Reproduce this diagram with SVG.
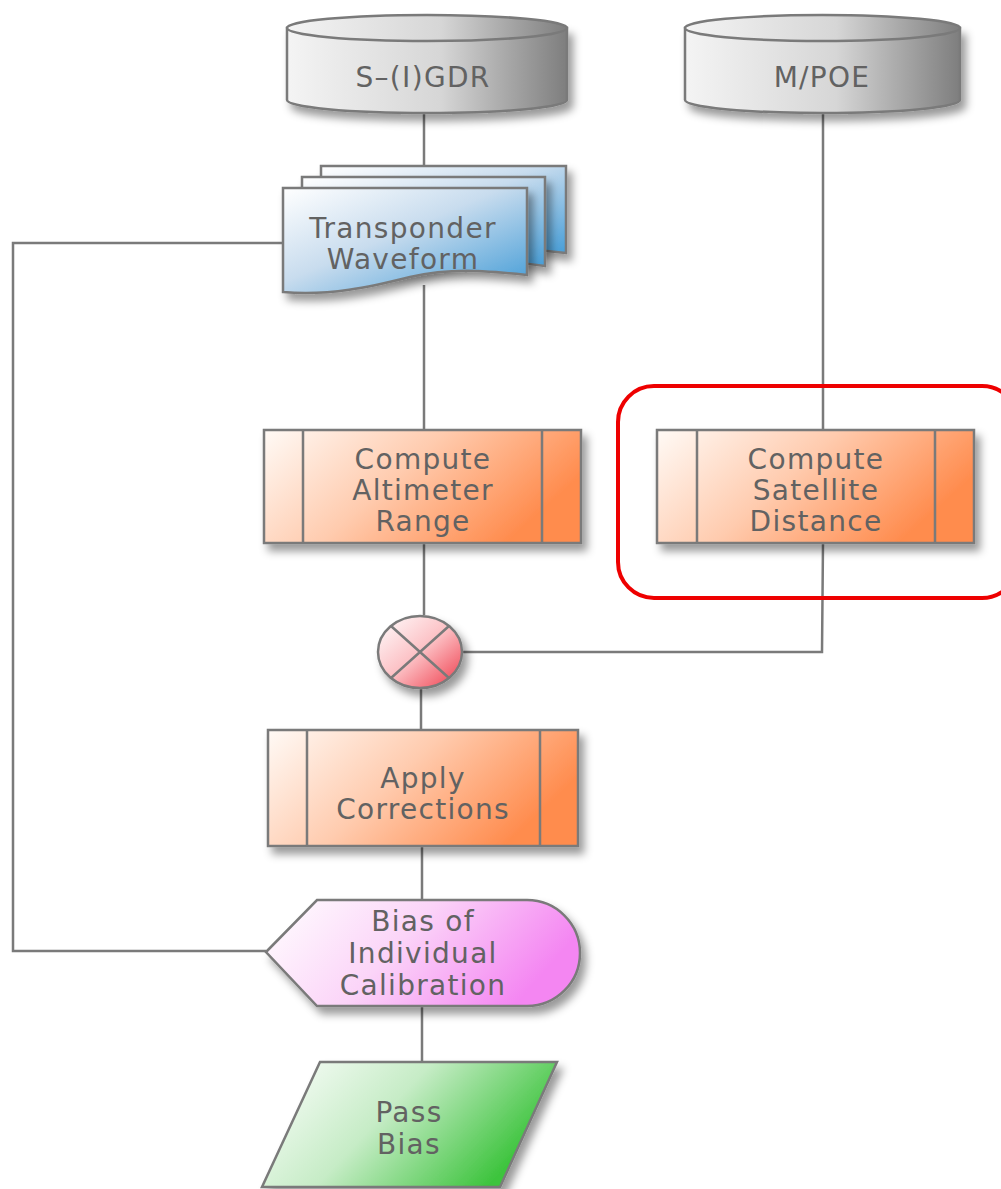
<svg xmlns="http://www.w3.org/2000/svg" width="1001" height="1189" viewBox="0 0 1001 1189">
<defs>
<filter id="sh" x="-20%" y="-20%" width="150%" height="160%">
<feDropShadow dx="5" dy="7" stdDeviation="4.5" flood-color="#000" flood-opacity="0.4"/>
</filter>
<linearGradient id="gGray" x1="0" y1="0" x2="1" y2="0">
<stop offset="0" stop-color="#f4f4f4"/><stop offset="0.55" stop-color="#d6d6d6"/><stop offset="1" stop-color="#7e7e7e"/>
</linearGradient>
<linearGradient id="gBlue" x1="0" y1="0" x2="1" y2="1">
<stop offset="0" stop-color="#ffffff"/><stop offset="0.45" stop-color="#c8dcee"/><stop offset="1" stop-color="#3f9ad6"/>
</linearGradient>
<linearGradient id="gOrange" x1="0" y1="0" x2="1" y2="0.4">
<stop offset="0" stop-color="#fffaf6"/><stop offset="0.5" stop-color="#ffcbae"/><stop offset="1" stop-color="#ff8c4e"/>
</linearGradient>
<linearGradient id="gRed" x1="0" y1="0" x2="1" y2="1">
<stop offset="0" stop-color="#ffffff"/><stop offset="0.5" stop-color="#fcc0c4"/><stop offset="1" stop-color="#ee3848"/>
</linearGradient>
<linearGradient id="gPink" x1="0" y1="0" x2="1" y2="0.3">
<stop offset="0" stop-color="#ffffff"/><stop offset="0.5" stop-color="#fbd4f8"/><stop offset="1" stop-color="#f486f2"/>
</linearGradient>
<linearGradient id="gGreen" x1="0" y1="0" x2="1" y2="0.4">
<stop offset="0" stop-color="#ffffff"/><stop offset="0.5" stop-color="#c6ecc6"/><stop offset="1" stop-color="#3ec43e"/>
</linearGradient>
</defs>
<style>
.sk{stroke:#7a7a7a;stroke-width:2.5;}
.ln{fill:none;stroke:#7a7a7a;stroke-width:2.5;}
.t{font-family:"DejaVu Sans","Verdana",sans-serif;font-size:28px;letter-spacing:1.3px;fill:#626262;text-anchor:middle;}
</style>

<g id="connectors">
<path class="ln" d="M424,112 V166"/>
<path class="ln" d="M424,285 V430"/>
<path class="ln" d="M823,112 V430"/>
<path class="ln" d="M424,543 V615"/>
<path class="ln" d="M823,543 L822,652 H462"/>
<path class="ln" d="M421,688 V730"/>
<path class="ln" d="M422,846 V900"/>
<path class="ln" d="M422,1006 V1062"/>
<path class="ln" d="M283,243 H13 V951 H266"/>
</g>

<g id="sigdr">
<path class="sk" fill="url(#gGray)" filter="url(#sh)" d="M287,28 V100 A140,13 0 0 0 567,100 V28 Z"/>
<ellipse class="sk" fill="url(#gGray)" cx="427" cy="28" rx="140" ry="13"/>
<text class="t" x="423" y="87">S–(I)GDR</text>
</g>

<g id="mpoe">
<path class="sk" fill="url(#gGray)" filter="url(#sh)" d="M685,28 V100 A137.5,13 0 0 0 960,100 V28 Z"/>
<ellipse class="sk" fill="url(#gGray)" cx="822.5" cy="28" rx="137.5" ry="13"/>
<text class="t" x="822" y="87">M/POE</text>
</g>

<g id="transponder">
<path class="sk" fill="url(#gBlue)" filter="url(#sh)" d="M321,166 H566 V253 C520,248 490,245 450,252 C410,260 370,262 321,256 Z"/>
<path class="sk" fill="url(#gBlue)" filter="url(#sh)" d="M302,177 H545 V266 C500,260 470,258 430,266 C390,274 350,276 302,270 Z"/>
<path class="sk" fill="url(#gBlue)" filter="url(#sh)" d="M283,188 H527 V275 C480,270 450,268 410,277 C370,287 330,296 283,292 Z"/>
<text class="t" x="403" y="238">Transponder</text>
<text class="t" x="403" y="269">Waveform</text>
</g>

<g id="altimeter">
<rect class="sk" fill="url(#gOrange)" filter="url(#sh)" x="264" y="430" width="317" height="113"/>
<path class="ln" d="M303,430 V543 M542,430 V543"/>
<text class="t" x="423" y="469">Compute</text>
<text class="t" x="423" y="500">Altimeter</text>
<text class="t" x="423" y="531">Range</text>
</g>

<g id="highlight">
<rect x="618" y="386" width="400" height="212" rx="36" ry="36" fill="none" stroke="#ee0000" stroke-width="4"/>
</g>

<g id="satellite">
<rect class="sk" fill="url(#gOrange)" filter="url(#sh)" x="657" y="430" width="317" height="113"/>
<path class="ln" d="M697,430 V543 M935,430 V543"/>
<text class="t" x="816" y="469">Compute</text>
<text class="t" x="816" y="500">Satellite</text>
<text class="t" x="816" y="531">Distance</text>
</g>

<g id="sum">
<ellipse class="sk" fill="url(#gRed)" filter="url(#sh)" cx="420" cy="652" rx="42" ry="36"/>
<path class="ln" d="M391,626 L449,678 M449,626 L391,678"/>
</g>

<g id="corrections">
<rect class="sk" fill="url(#gOrange)" filter="url(#sh)" x="268" y="730" width="310" height="116"/>
<path class="ln" d="M307,730 V846 M540,730 V846"/>
<text class="t" x="423" y="788">Apply</text>
<text class="t" x="423" y="819">Corrections</text>
</g>

<g id="bias">
<path class="sk" fill="url(#gPink)" filter="url(#sh)" d="M266,952 L317,900 H527 A53,53 0 0 1 527,1006 H317 Z"/>
<text class="t" x="423" y="931">Bias of</text>
<text class="t" x="423" y="963">Individual</text>
<text class="t" x="423" y="995">Calibration</text>
</g>

<g id="passbias">
<path class="sk" fill="url(#gGreen)" filter="url(#sh)" d="M320,1062 H557 L500,1187 H262 Z"/>
<text class="t" x="409" y="1122">Pass</text>
<text class="t" x="409" y="1154">Bias</text>
</g>
</svg>
